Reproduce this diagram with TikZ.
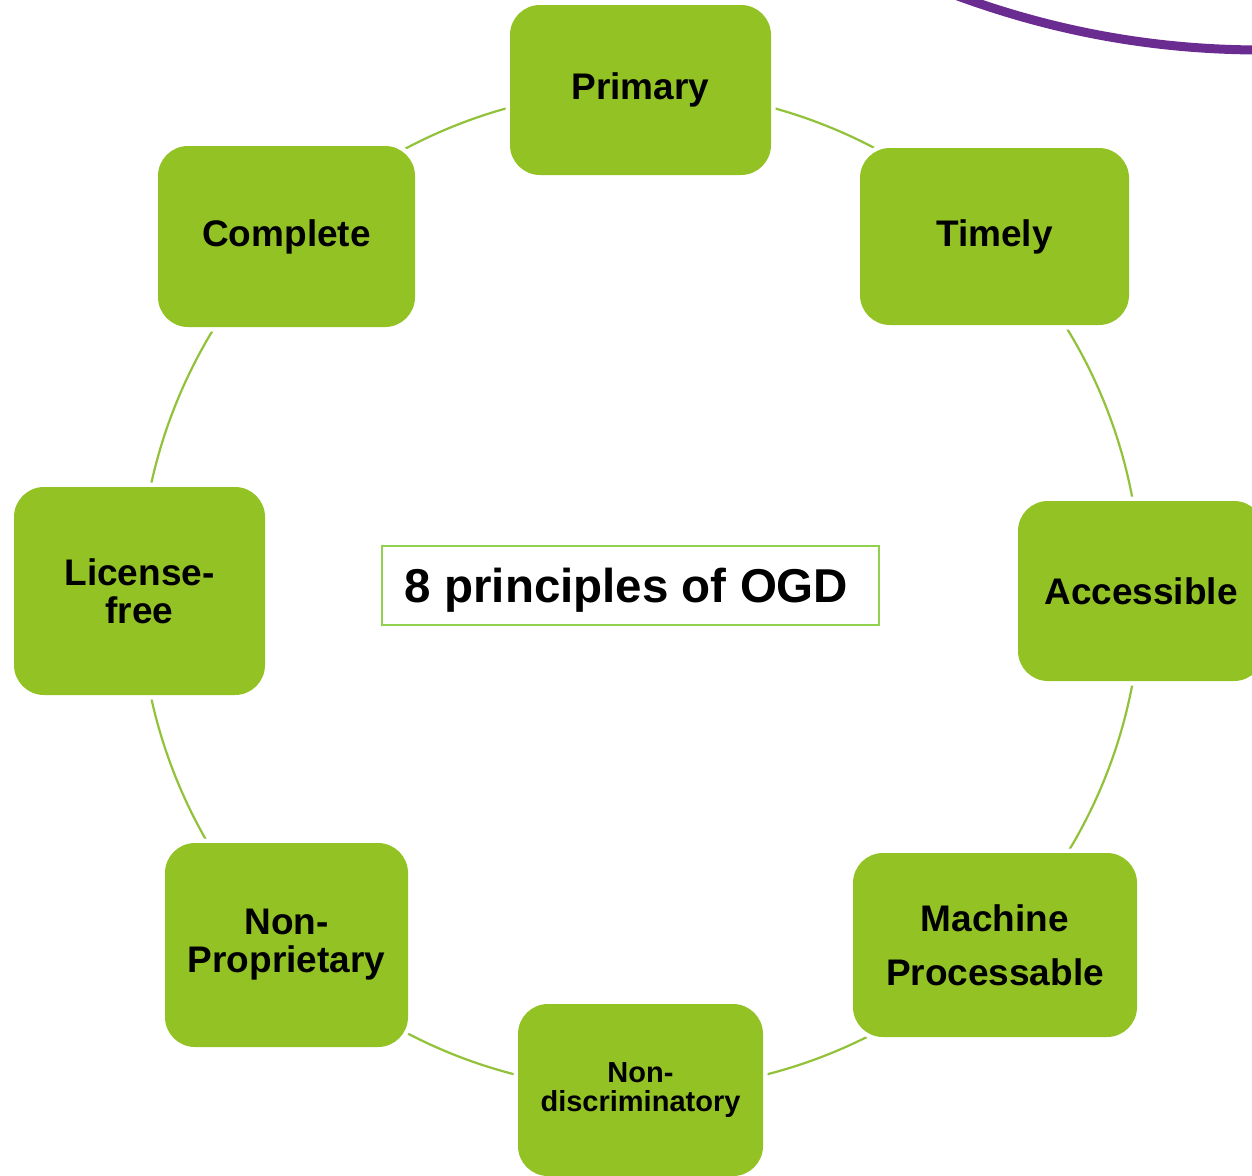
\documentclass[tikz,border=0pt]{standalone}
\usepackage{fontspec}
\setmainfont{Liberation Sans}
\definecolor{boxgreen}{HTML}{93C225}
\definecolor{linegreen}{HTML}{92C13A}
\definecolor{framegreen}{HTML}{92D050}
\definecolor{ogdpurple}{HTML}{6A2C91}
\pgfdeclarelayer{background}
\pgfsetlayers{background,main}
\begin{document}
\begin{tikzpicture}[x=1pt,y=-1pt,
  principle/.style={rectangle, rounded corners=30pt, fill=boxgreen, draw=none,
    preaction={draw=white, line width=9pt},
    inner sep=0pt, align=center, font=\bfseries\fontsize{37}{38}\selectfont},
  conn/.style={draw=linegreen, line width=2.2pt, bend left=22.5, looseness=0.885},
  titlebox/.style={rectangle, draw=framegreen, line width=2.5pt, fill=white,
    inner sep=0pt, minimum width=497pt, minimum height=79pt, text depth=0pt,
    font=\bfseries\fontsize{47.5}{48}\selectfont}
]
\useasboundingbox (0,0) rectangle (1252,1175);
\clip (0,0) rectangle (1252,1175);

\node[principle, minimum width=261pt, minimum height=170pt] (primary) at (640.5,90) {Primary};
\node[principle, minimum width=269pt, minimum height=177pt] (timely) at (994.5,236.5) {Timely};
\node[principle, minimum width=246pt, minimum height=180pt] (accessible) at (1141,591) {Accessible};
\node[principle, minimum width=284pt, minimum height=184pt] (machine) at (995,945) {Machine\\[16pt]Processable};
\node[principle, minimum width=245pt, minimum height=172pt, font=\bfseries\fontsize{29}{29}\selectfont] (nondisc) at (640.5,1090) {Non-\\discriminatory};
\node[principle, minimum width=243pt, minimum height=204pt] (nonprop) at (286.5,945) {Non-\\Proprietary};
\node[principle, minimum width=251pt, minimum height=208pt] (license) at (139.5,591) {License-\\free};
\node[principle, minimum width=257pt, minimum height=181pt] (complete) at (286.5,236.5) {Complete};

\node[titlebox] (title) at (630.5,585.5) {8 principles of OGD\hspace*{8pt}};

\begin{pgfonlayer}{background}
\fill[white] (0,0) rectangle (1252,1175);
\draw[conn] (primary.center) to (timely.center);
\draw[conn] (timely.center) to (accessible.center);
\draw[conn] (accessible.center) to (machine.center);
\draw[conn] (machine.center) to (nondisc.center);
\draw[conn] (nondisc.center) to (nonprop.center);
\draw[conn] (nonprop.center) to (license.center);
\draw[conn] (license.center) to (complete.center);
\draw[conn] (complete.center) to (primary.center);
\end{pgfonlayer}

\draw[ogdpurple, line width=9pt] (955,-5) .. controls (1050,30) and (1150,50) .. (1262,50);
\end{tikzpicture}
\end{document}
